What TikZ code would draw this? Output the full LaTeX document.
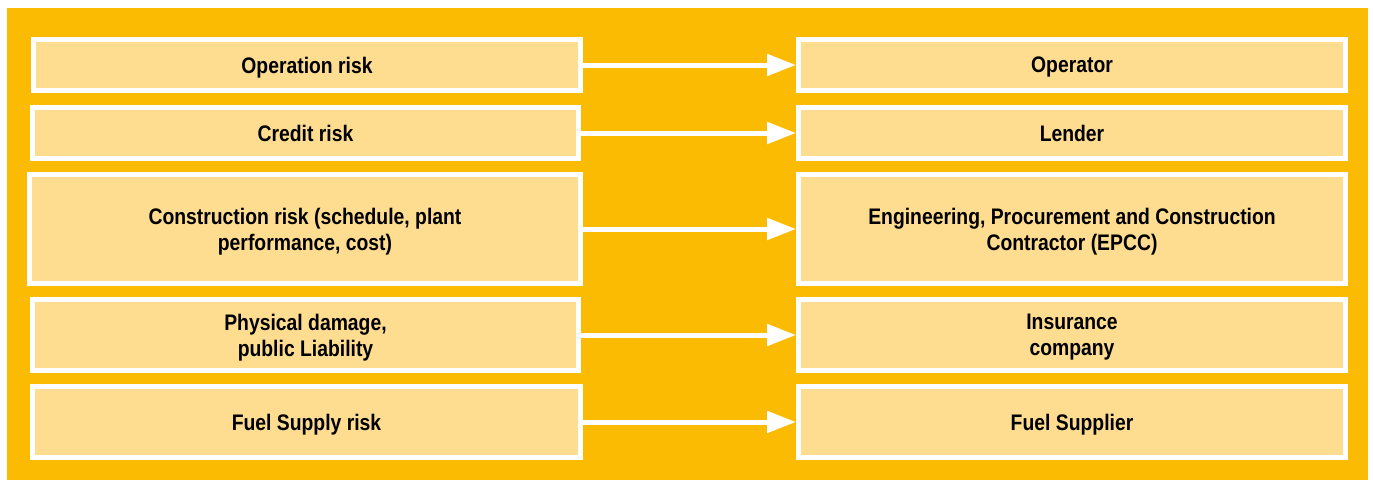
\documentclass[tikz,border=0pt]{standalone}
\usepackage{fontspec}
\setmainfont{Liberation Sans}[FakeStretch=0.86]
\usetikzlibrary{arrows.meta}
\definecolor{bgorange}{RGB}{252,187,3}
\definecolor{boxfill}{RGB}{254,220,144}
\tikzset{
  riskbox/.style={draw=white, line width=5pt, fill=boxfill, inner sep=0pt, outer sep=2.5pt,
    anchor=north west, align=center, text depth=0pt, font=\fontsize{22.5}{26}\selectfont\bfseries, text=black},
  flow/.style={draw=white, line width=5pt, -{Triangle[length=29pt,width=21pt]}}
}
\begin{document}
\begin{tikzpicture}[x=1pt,y=-1pt]
\useasboundingbox (0,0) rectangle (1373,480);
\fill[white] (0,0) rectangle (1373,480);
\fill[bgorange] (7,8) rectangle (1368,480);
% left boxes (anchor = outer edge)
\node[riskbox, minimum width=547pt, minimum height=51pt] (L1) at (31,37) {Operation risk};
\node[riskbox, minimum width=546pt, minimum height=51pt] (L2) at (30,105) {Credit risk};
\node[riskbox, minimum width=551pt, minimum height=109pt] (L3) at (27,172) {Construction risk (schedule, plant\\performance, cost)};
\node[riskbox, minimum width=546pt, minimum height=71pt] (L4) at (30,297) {Physical damage,\\public Liability};
\node[riskbox, minimum width=548pt, minimum height=71pt] (L5) at (30,384) {Fuel Supply risk};
% right boxes
\node[riskbox, minimum width=547pt, minimum height=51pt] (R1) at (796,37) {Operator};
\node[riskbox, minimum width=547pt, minimum height=51pt] (R2) at (796,105) {Lender};
\node[riskbox, minimum width=547pt, minimum height=109pt] (R3) at (796,172) {Engineering, Procurement and Construction\\Contractor (EPCC)};
\node[riskbox, minimum width=547pt, minimum height=71pt] (R4) at (796,297) {Insurance\\company};
\node[riskbox, minimum width=547pt, minimum height=71pt] (R5) at (796,384) {Fuel Supplier};
% arrows
\draw[flow] (L1.east) -- (R1.west);
\draw[flow] (L2.east) -- (R2.west);
\draw[flow] (L3.east) -- (R3.west);
\draw[flow] (L4.east) -- (R4.west);
\draw[flow] (L5.east) -- (R5.west);
\end{tikzpicture}
\end{document}
